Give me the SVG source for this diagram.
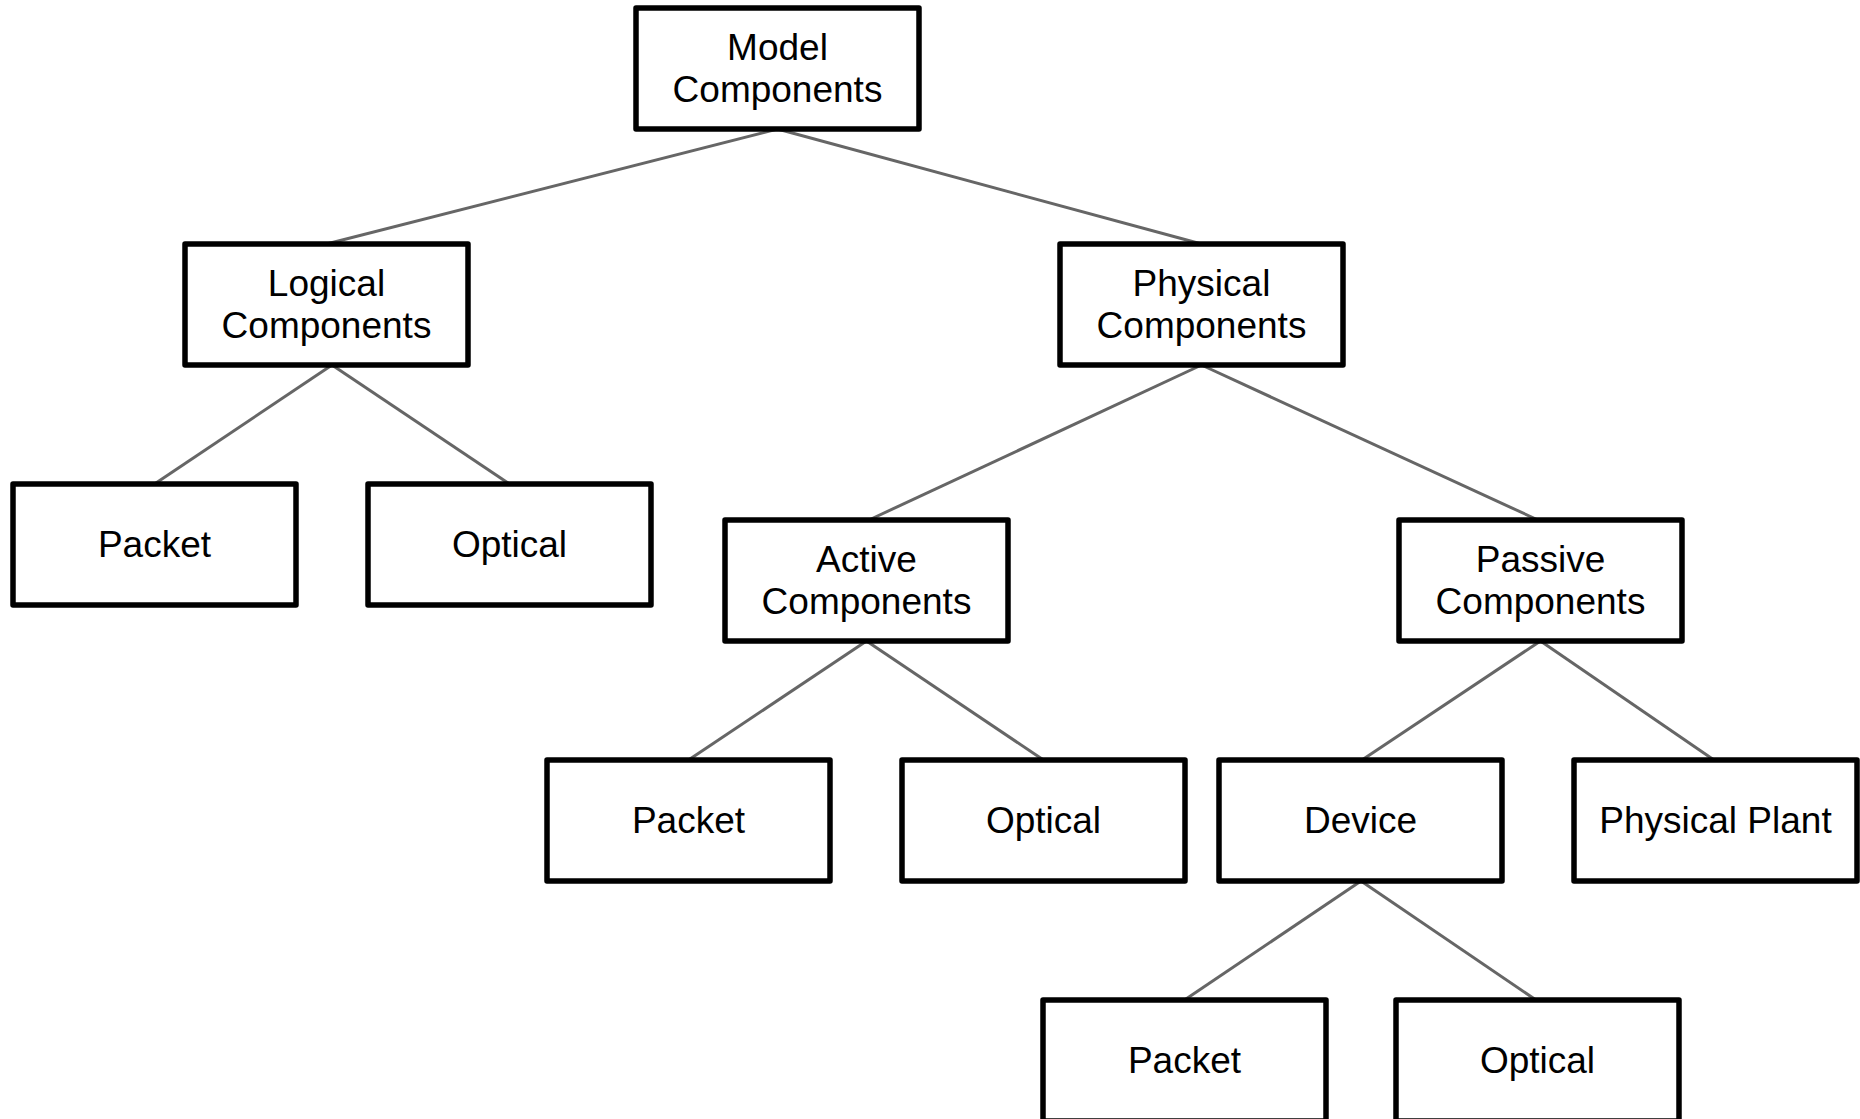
<svg xmlns="http://www.w3.org/2000/svg" width="1860" height="1119" viewBox="0 0 1860 1119">
<style>
.box{fill:#fff;stroke:#000;stroke-width:5.5;stroke-linejoin:round}
.lbl{font-family:"Liberation Sans",Arial,sans-serif;font-size:37px;fill:#000;text-anchor:middle}
.edge{stroke:#666;stroke-width:3;fill:none}
</style>
<rect width="1860" height="1119" fill="#fff"/>
<g id="connectors">
<line class="edge" x1="777.5" y1="129" x2="326.5" y2="244"/>
<line class="edge" x1="777.5" y1="129" x2="1201.5" y2="244"/>
<line class="edge" x1="332" y1="365" x2="154.5" y2="484"/>
<line class="edge" x1="332" y1="365" x2="509.5" y2="484"/>
<line class="edge" x1="1201.5" y1="365" x2="869" y2="520"/>
<line class="edge" x1="1201.5" y1="365" x2="1538" y2="520"/>
<line class="edge" x1="866.5" y1="641" x2="688.5" y2="760"/>
<line class="edge" x1="866.5" y1="641" x2="1043.5" y2="760"/>
<line class="edge" x1="1540.5" y1="641" x2="1362" y2="760"/>
<line class="edge" x1="1540.5" y1="641" x2="1714" y2="760"/>
<line class="edge" x1="1361" y1="881" x2="1184.5" y2="1000"/>
<line class="edge" x1="1361" y1="881" x2="1536" y2="1000"/>
</g>
<g id="model"><rect class="box" x="636" y="8" width="283" height="121"/><text class="lbl" x="777.5" y="60">Model</text><text class="lbl" x="777.5" y="102">Components</text></g>
<g id="logical"><rect class="box" x="185" y="244" width="283" height="121"/><text class="lbl" x="326.5" y="296">Logical</text><text class="lbl" x="326.5" y="338">Components</text></g>
<g id="physical"><rect class="box" x="1060" y="244" width="283" height="121"/><text class="lbl" x="1201.5" y="296">Physical</text><text class="lbl" x="1201.5" y="338">Components</text></g>
<g id="packet-logical"><rect class="box" x="13" y="484" width="283" height="121"/><text class="lbl" x="154.5" y="557">Packet</text></g>
<g id="optical-logical"><rect class="box" x="368" y="484" width="283" height="121"/><text class="lbl" x="509.5" y="557">Optical</text></g>
<g id="active"><rect class="box" x="725" y="520" width="283" height="121"/><text class="lbl" x="866.5" y="572">Active</text><text class="lbl" x="866.5" y="614">Components</text></g>
<g id="passive"><rect class="box" x="1399" y="520" width="283" height="121"/><text class="lbl" x="1540.5" y="572">Passive</text><text class="lbl" x="1540.5" y="614">Components</text></g>
<g id="packet-active"><rect class="box" x="547" y="760" width="283" height="121"/><text class="lbl" x="688.5" y="833">Packet</text></g>
<g id="optical-active"><rect class="box" x="902" y="760" width="283" height="121"/><text class="lbl" x="1043.5" y="833">Optical</text></g>
<g id="device"><rect class="box" x="1219" y="760" width="283" height="121"/><text class="lbl" x="1360.5" y="833">Device</text></g>
<g id="physical-plant"><rect class="box" x="1574" y="760" width="283" height="121"/><text class="lbl" x="1715.5" y="833">Physical Plant</text></g>
<g id="packet-device"><rect class="box" x="1043" y="1000" width="283" height="121"/><text class="lbl" x="1184.5" y="1073">Packet</text></g>
<g id="optical-device"><rect class="box" x="1396" y="1000" width="283" height="121"/><text class="lbl" x="1537.5" y="1073">Optical</text></g>
</svg>
